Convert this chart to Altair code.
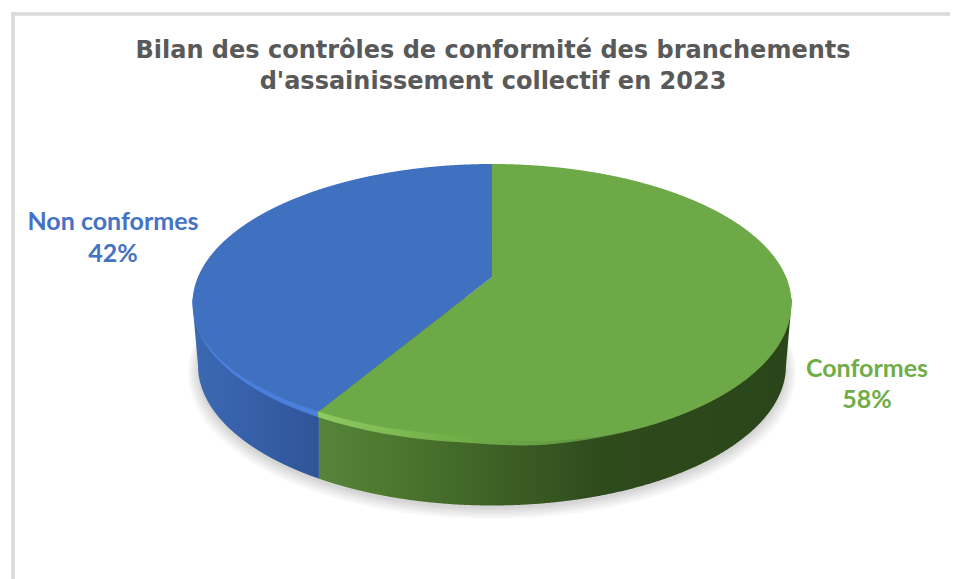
import numpy as np
import pandas as pd
import altair as alt

# Chart values
categories = ["Conformes", "Non conformes"]
shares = [58, 42]
title_lines = ["Bilan des contrôles de conformité des branchements",
               "d'assainissement collectif en 2023"]
TITLE_COLOR = "#595959"
CAT_COLORS = ["#70AD47", "#4472C4"]
TOP_COLORS = ["#6DA947", "#4070C0"]

# Scene geometry of the tilted pie (page pixels)
CX, TOP, RX, RY = 492.0, 164.0, 299.5, 139.5
APEX_Y = 277.0
DEPTH = 62.0
BOTTOM_RX, BOTTOM_RY = 294.0, 140.0
RIM = 7.0
SWELL = 4.0
TILT = 0.207
CY = TOP + RY


def ell(x, rx, ry, cy, sign):
    return cy + sign * ry * np.sqrt(np.clip(1 - ((x - CX) / rx) ** 2, 0, 1))


def ramp(x, a, b):
    t = np.clip((x - a) / (b - a), 0, 1)
    return t * t * (3 - 2 * t)


def outer_ry(x):
    """The front edge bulges a little on the right-hand side."""
    return RY + SWELL * ramp(x, CX - 40, CX + 60)


def inner_ry(x):
    """The bevel is widest on the left and fades out towards the right."""
    return outer_ry(x) - RIM * (1 - ramp(x, CX - 60, CX + 170))


def low(x, ry):
    return CY + ry * np.sqrt(np.clip(1 - ((x - CX) / RX) ** 2, 0, 1))


# where the share boundary meets the rim, seen in perspective
theta = 2 * np.pi * shares[0] / 100
d = -np.cos(theta)
SEAM_X = CX + 292.5 * np.sin(theta) / (1 - TILT * d) - 2
SEAM_Y = low(SEAM_X, inner_ry(SEAM_X)) + 1
SLOPE = (SEAM_Y - APEX_Y) / (SEAM_X - CX)


def cut(x):
    return APEX_Y + SLOPE * (x - CX)


def xs(a, b, extra=()):
    """Sample positions, denser towards both ends where the ellipse is steep."""
    u = np.linspace(0, np.pi, 700)
    return np.unique(np.concatenate([a + (b - a) * (1 - np.cos(u)) / 2,
                                     np.array(extra, dtype=float)]))


def blue_surface():
    x = xs(CX - RX, CX, [SEAM_X])
    return pd.DataFrame({"x": x, "y": ell(x, RX, RY, CY, -1),
                         "y2": np.minimum(low(x, inner_ry(x)), cut(x))})


def green_surface():
    x = xs(SEAM_X, CX + RX, [CX, CX + 0.01])
    return pd.DataFrame({"x": x,
                         "y": np.where(x <= CX, cut(x), ell(x, RX, RY, CY, -1)),
                         "y2": low(x, inner_ry(x))})


def rim(a, b):
    x = xs(a, b)
    return pd.DataFrame({"x": x, "y": low(x, inner_ry(x) - 3), "y2": low(x, outer_ry(x))})


def wall(a, b):
    x = xs(a, b)
    inside = np.abs(x - CX) <= BOTTOM_RX
    lower = np.where(inside, ell(x, BOTTOM_RX, BOTTOM_RY, CY + DEPTH, 1),
                     CY + DEPTH * (1 - (np.abs(x - CX) - BOTTOM_RX) / (RX - BOTTOM_RX)))
    return pd.DataFrame({"x": x, "y": np.full_like(x, CY - 5), "y2": lower})


def shadow(grow, dy):
    rx, ry = BOTTOM_RX + grow, BOTTOM_RY + grow * 0.55
    x = np.linspace(CX - rx, CX + rx, 500)
    cy = CY + DEPTH + dy
    return pd.DataFrame({"x": x, "y": ell(x, rx, ry, cy, -1), "y2": ell(x, rx, ry, cy, 1)})


X = alt.X("x:Q", axis=None, scale=alt.Scale(domain=[8, 950], nice=False, zero=False))
Y = alt.Y("y:Q", axis=None, scale=alt.Scale(domain=[579, 8], nice=False, zero=False))


def grad(*stops):
    return alt.Gradient(gradient="linear", x1=0, x2=1, y1=0, y2=0,
                        stops=[alt.GradientStop(offset=o, color=c) for o, c in stops])


def area(df, **kw):
    return alt.Chart(df).mark_area(interpolate="linear", **kw).encode(x=X, y=Y, y2="y2:Q")


layers = []
# soft shadow
for grow, dy in [(10, 8), (8, 7), (6, 6), (4, 5), (2, 4), (0.5, 3)]:
    layers.append(area(shadow(grow, dy), fill="#000000", opacity=0.026))

# side wall
layers.append(area(wall(SEAM_X + 1, CX + RX),
                   fill=grad((0, "#55843A"), (0.12, "#4F7B31"), (0.38, "#3D6026"),
                             (0.6, "#2E4B1C"), (1, "#2B451A"))))
layers.append(area(wall(CX - RX, SEAM_X + 1),
                   fill=grad((0, "#3C69B3"), (0.5, "#365FA8"), (1, "#2F5597"))))

# bevelled rim
layers.append(area(rim(CX - RX, SEAM_X), fill="#4A80DC"))
layers.append(area(rim(SEAM_X, CX + RX),
                   fill=grad((0, "#8CCB5F"), (0.1, "#84C058"), (0.3, "#70AD47"),
                             (0.6, "#5F9440"), (0.85, "#47702C"), (1, "#2F4D1D"))))

# flat top
layers.append(area(blue_surface(), fill=TOP_COLORS[1]))
layers.append(area(green_surface(), fill=TOP_COLORS[0]))

# frame
frame_h = pd.DataFrame({"x": [11], "x2": [950], "y": [14]})
frame_v = pd.DataFrame({"x": [13], "y": [12.5], "y2": [579]})
layers.append(alt.Chart(frame_h).mark_rule(color="#DADADA", strokeWidth=3.5).encode(x=X, x2="x2:Q", y=Y))
layers.append(alt.Chart(frame_v).mark_rule(color="#DADADA", strokeWidth=3.5).encode(x=X, y=Y, y2="y2:Q"))

# title
title_df = pd.DataFrame({"x": [493, 493], "y": [51, 82], "t": title_lines})
layers.append(alt.Chart(title_df).mark_text(font="DejaVu Sans", fontWeight="bold", fontSize=24,
                                            color=TITLE_COLOR, align="center", baseline="middle")
              .encode(x=X, y=Y, text="t:N"))

# data labels
lab_df = pd.DataFrame({
    "x": [867, 867, 113, 113],
    "y": [369, 400, 222, 254],
    "t": [categories[0], f"{shares[0]}%", categories[1], f"{shares[1]}%"],
    "c": [CAT_COLORS[0], CAT_COLORS[0], CAT_COLORS[1], CAT_COLORS[1]],
})
layers.append(alt.Chart(lab_df).mark_text(font="Lato", fontWeight="bold", fontSize=25,
                                          align="center", baseline="middle")
              .encode(x=X, y=Y, text="t:N", color=alt.Color("c:N", scale=None)))

chart = alt.layer(*layers).properties(
    width=942, height=571, padding=0,
    autosize=alt.AutoSizeParams(type="none"),
    background="#FFFFFF",
).configure_view(stroke=None)

chart.save("out.html", embed_options={"renderer": "svg", "actions": False})
